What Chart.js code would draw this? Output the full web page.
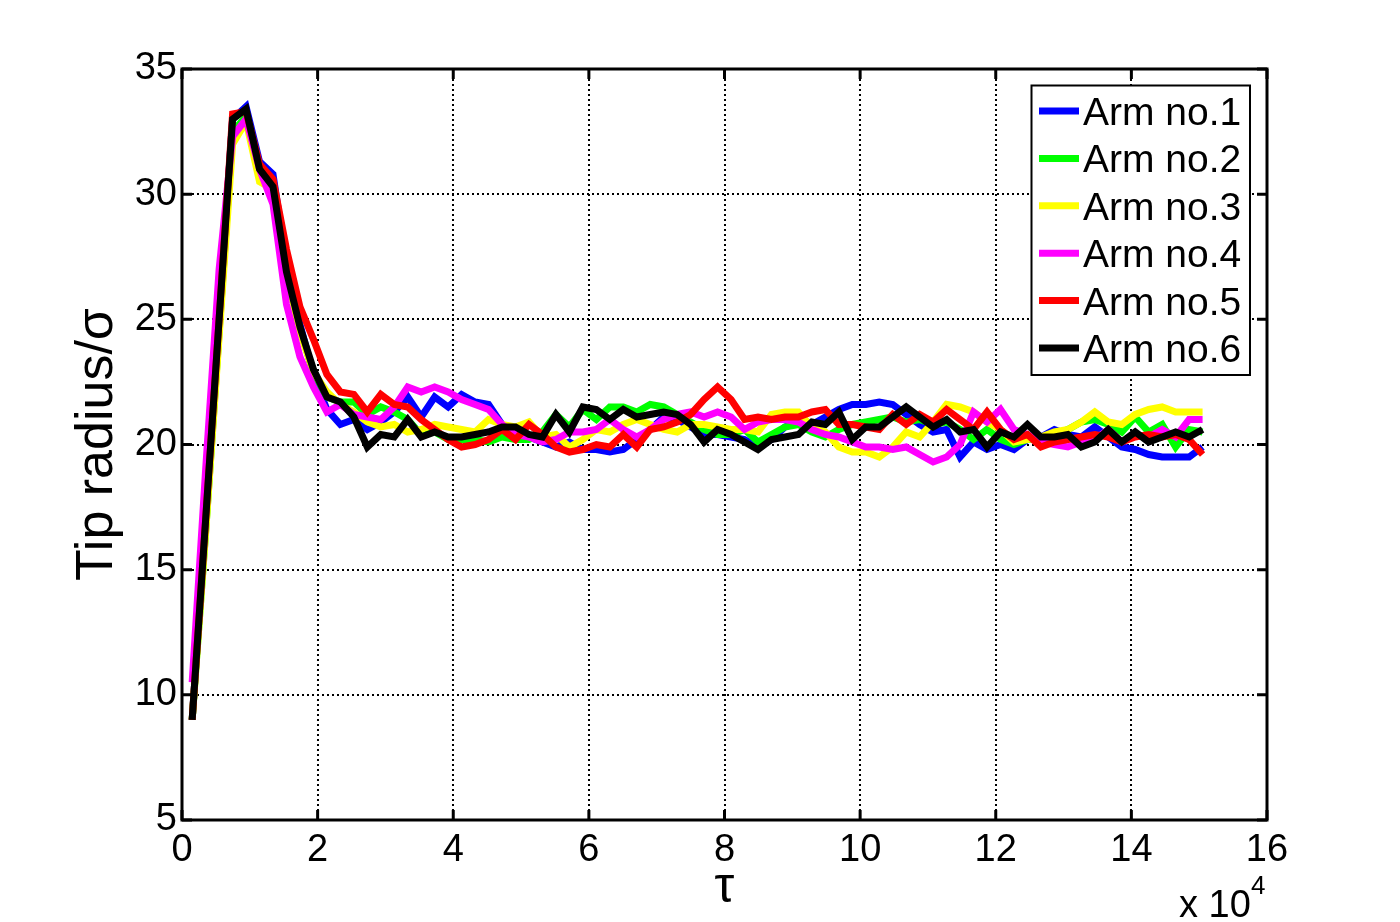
<!DOCTYPE html>
<html>
<head>
<meta charset="utf-8">
<title>Tip radius vs tau</title>
<script src="https://cdn.jsdelivr.net/npm/chart.js@4.4.0/dist/chart.umd.min.js"></script>
<style>
  html, body { margin: 0; padding: 0; background: #fff; }
  #wrap { width: 1400px; height: 922px; }
</style>
</head>
<body>
<div id="wrap"><canvas id="chartTip" width="1400" height="922"></canvas></div>
<script>
// temps d'échantillonnage (x 10^4), pas régulier
const tauStart = 0.15;
const tauEnd = 15.05;
const nPoints = 76;
const tau = Array.from({ length: nPoints }, (_, i) => +(tauStart + i * (tauEnd - tauStart) / (nPoints - 1)).toFixed(4));

const xTickValues = [0, 2, 4, 6, 8, 10, 12, 14, 16];
const yTickValues = [5, 10, 15, 20, 25, 30, 35];

const armLabels = ['Arm no.1', 'Arm no.2', 'Arm no.3', 'Arm no.4', 'Arm no.5', 'Arm no.6'];
const armColors = ['#0000ff', '#00ff00', '#ffff00', '#ff00ff', '#ff0000', '#000000'];

const arm1 = [9, 17, 25, 33.0, 33.5, 31.3, 30.8, 27.2, 24.8, 22.8,
  21.4, 20.8, 21.0, 20.6, 20.9, 21.3, 21.9, 21.1, 21.9, 21.5, 22.0, 21.7, 21.6, 20.8, 20.5, 20.3, 20.1, 19.9, 20.1, 19.8, 19.8, 19.7,
  19.8, 20.2, 20.6, 21.1, 21.0, 20.7, 20.4, 20.4, 20.3, 20.2, 19.9, 20.2, 20.7, 20.9, 20.8, 21.1, 21.4, 21.6, 21.6, 21.7, 21.6, 21.2,
  20.8, 20.5, 20.6, 19.5, 20.1, 19.8, 20.0, 19.8, 20.2, 20.3, 20.6, 20.4, 20.3, 20.7, 20.3, 19.9, 19.8, 19.6, 19.5, 19.5, 19.5,
  19.9];
const arm2 = [9, 16.5, 24.5, 32.5, 33.1, 31.0, 30.3, 26.8, 24.6, 22.9,
  21.9, 21.7, 21.7, 21.2, 21.5, 21.3, 21.0, 20.4, 20.5, 20.2, 20.2, 20.2, 20.1, 20.3, 20.2, 20.2, 20.5, 21.2, 20.7, 21.4, 21.0, 21.5,
  21.5, 21.3, 21.6, 21.5, 21.2, 20.9, 20.6, 20.4, 20.4, 20.6, 20.1, 20.4, 20.7, 20.8, 20.5, 20.3, 20.6, 20.8, 20.9, 21.0, 21.1, 20.9,
  21.0, 20.8, 20.9, 20.6, 20.2, 20.6, 20.2, 20.0, 20.2, 20.3, 20.4, 20.6, 20.9, 21.0, 20.8, 20.5, 21.1, 20.5, 20.8, 19.9, 20.6,
  20.5];
const arm3 = [9, 16.5, 24.3, 32.0, 32.9, 30.5, 30.2, 26.8, 24.5, 22.9,
  22.1, 21.6, 21.3, 20.9, 20.7, 20.8, 20.5, 20.6, 20.8, 20.7, 20.6, 20.5, 21.0, 20.8, 20.7, 20.9, 20.3, 20.4, 19.9, 20.2, 20.6, 20.5,
  20.8, 21.0, 20.8, 20.6, 20.5, 20.8, 20.8, 20.7, 20.6, 20.6, 20.5, 21.2, 21.3, 21.3, 20.7, 20.5, 19.9, 19.7, 19.7, 19.5, 19.9, 20.5,
  20.3, 20.9, 21.6, 21.5, 21.3, 20.9, 20.6, 20.1, 20.2, 20.3, 20.5, 20.6, 20.9, 21.3, 20.9, 20.8, 21.2, 21.4, 21.5, 21.3, 21.3,
  21.3];
const arm4 = [10.5, 19, 27, 32.3, 33.0, 31.0, 29.6, 25.6, 23.5, 22.3,
  21.3, 21.6, 21.2, 21.1, 21.0, 21.5, 22.3, 22.1, 22.3, 22.1, 21.8, 21.6, 21.4, 20.8, 20.4, 20.3, 20.1, 20.2, 20.5, 20.5, 20.6, 21.0,
  20.6, 20.3, 20.6, 21.0, 21.2, 21.3, 21.1, 21.3, 21.1, 20.6, 20.9, 21.0, 21.0, 20.9, 20.6, 20.4, 20.3, 20.1, 19.9, 19.9, 19.8, 19.9,
  19.6, 19.3, 19.5, 20.0, 21.3, 20.9, 21.4, 20.6, 20.4, 20.1, 20.0, 19.9, 20.1, 20.2, 20.6, 20.1, 20.4, 20.3, 20.6, 20.3, 21.0,
  21.0];
const arm5 = [9, 17, 25, 33.2, 33.3, 31.2, 30.6, 27.8, 25.5, 24.2,
  22.8, 22.1, 22.0, 21.3, 22.0, 21.6, 21.5, 21.0, 20.6, 20.2, 19.9, 20.0, 20.2, 20.6, 20.2, 20.8, 20.4, 19.9, 19.7, 19.8, 20.0, 19.9,
  20.4, 19.9, 20.6, 20.7, 20.9, 21.2, 21.8, 22.3, 21.8, 21.0, 21.1, 21.0, 21.1, 21.1, 21.3, 21.4, 20.8, 20.8, 20.7, 20.6, 21.2, 20.8,
  21.2, 20.9, 21.4, 21.0, 20.6, 21.3, 20.6, 20.2, 20.4, 19.9, 20.1, 20.2, 20.3, 20.4, 20.3, 20.1, 20.3, 20.4, 20.3, 20.4, 20.2,
  19.6];
const arm6 = [9, 17, 25, 33.0, 33.4, 31.0, 30.3, 26.9, 24.7, 23.0,
  21.9, 21.7, 21.1, 19.9, 20.4, 20.3, 21.0, 20.3, 20.5, 20.3, 20.3, 20.4, 20.5, 20.7, 20.7, 20.4, 20.3, 21.2, 20.5, 21.5, 21.4, 21.0,
  21.4, 21.1, 21.2, 21.3, 21.2, 20.8, 20.1, 20.6, 20.4, 20.1, 19.8, 20.2, 20.3, 20.4, 20.9, 20.8, 21.3, 20.2, 20.7, 20.7, 21.1, 21.5,
  21.1, 20.7, 21.0, 20.5, 20.6, 19.9, 20.5, 20.3, 20.8, 20.3, 20.3, 20.4, 19.9, 20.1, 20.6, 20.1, 20.5, 20.1, 20.3, 20.5, 20.3,
  20.6];

const armSeries = [arm1, arm2, arm3, arm4, arm5, arm6];
const fontFamily = "'Liberation Sans', Arial, sans-serif";

// cadre, graduations internes, légende et facteur x 10^4 façon MATLAB
const matlabBox = {
  id: 'matlabBox',
  afterDraw(chart) {
    const ctx = chart.ctx;
    const area = chart.chartArea;
    const xs = chart.scales.x;
    const ys = chart.scales.y;
    const tickLen = 10;

    ctx.save();
    ctx.strokeStyle = '#000';
    ctx.lineWidth = 3;
    ctx.strokeRect(area.left, area.top, area.right - area.left, area.bottom - area.top);

    ctx.beginPath();
    xTickValues.forEach(v => {
      const px = xs.getPixelForValue(v);
      ctx.moveTo(px, area.bottom); ctx.lineTo(px, area.bottom - tickLen);
      ctx.moveTo(px, area.top); ctx.lineTo(px, area.top + tickLen);
    });
    yTickValues.forEach(v => {
      const py = ys.getPixelForValue(v);
      ctx.moveTo(area.left, py); ctx.lineTo(area.left + tickLen, py);
      ctx.moveTo(area.right, py); ctx.lineTo(area.right - tickLen, py);
    });
    ctx.stroke();

    // légende
    const lx = 1031.5, ly = 85.5, lw = 218.5, lh = 289.5;
    ctx.fillStyle = '#fff';
    ctx.fillRect(lx, ly, lw, lh);
    ctx.lineWidth = 2;
    ctx.strokeRect(lx, ly, lw, lh);
    ctx.font = `39px ${fontFamily}`;
    ctx.textAlign = 'left';
    ctx.textBaseline = 'alphabetic';
    chart.data.datasets.forEach((ds, i) => {
      const cy = 111 + i * 47.4;
      ctx.strokeStyle = ds.borderColor;
      ctx.lineWidth = 7;
      ctx.beginPath();
      ctx.moveTo(1039, cy); ctx.lineTo(1079, cy);
      ctx.stroke();
      ctx.fillStyle = '#000';
      ctx.fillText(ds.label, 1083, cy + 14);
    });

    // facteur d'échelle de l'axe x
    ctx.fillStyle = '#000';
    ctx.font = `38px ${fontFamily}`;
    ctx.fillText('x 10', 1179, 917);
    ctx.font = `26px ${fontFamily}`;
    ctx.fillText('4', 1251, 894);
    ctx.restore();
  }
};

const ctx = document.getElementById('chartTip').getContext('2d');
new Chart(ctx, {
  type: 'line',
  data: {
    datasets: armSeries.map((serie, i) => ({
      label: armLabels[i],
      data: serie.map((v, k) => ({ x: tau[k], y: v })),
      borderColor: armColors[i],
      backgroundColor: armColors[i],
      borderWidth: 7,
      pointRadius: 0,
      tension: 0,
      fill: false,
      order: armSeries.length - i
    }))
  },
  options: {
    responsive: false,
    animation: false,
    devicePixelRatio: 1,
    layout: { padding: { top: 69, right: 133, bottom: 0, left: 0 } },
    plugins: { legend: { display: false }, tooltip: { enabled: false } },
    scales: {
      x: {
        type: 'linear',
        min: 0,
        max: 16,
        afterBuildTicks: s => { s.ticks = xTickValues.map(v => ({ value: v })); },
        afterFit: s => { s.height = 102; },
        ticks: { color: '#000', font: { family: fontFamily, size: 38 }, padding: 8, maxRotation: 0 },
        grid: { color: '#000', lineWidth: 2, drawTicks: false },
        border: { display: false, dash: [2, 3] },
        title: { display: true, text: 'τ', color: '#000', font: { family: fontFamily, size: 50 }, padding: { top: 0, bottom: 4 } }
      },
      y: {
        min: 5,
        max: 35,
        afterBuildTicks: s => { s.ticks = yTickValues.map(v => ({ value: v })); },
        afterFit: s => { s.width = 182; },
        ticks: { color: '#000', font: { family: fontFamily, size: 38 }, padding: 5 },
        grid: { color: '#000', lineWidth: 2, drawTicks: false },
        border: { display: false, dash: [2, 3] },
        title: { display: true, text: 'Tip radius/σ', color: '#000', font: { family: fontFamily, size: 52 }, padding: { top: 66, bottom: 0 } }
      }
    }
  },
  plugins: [matlabBox]
});
</script>
</body>
</html>
